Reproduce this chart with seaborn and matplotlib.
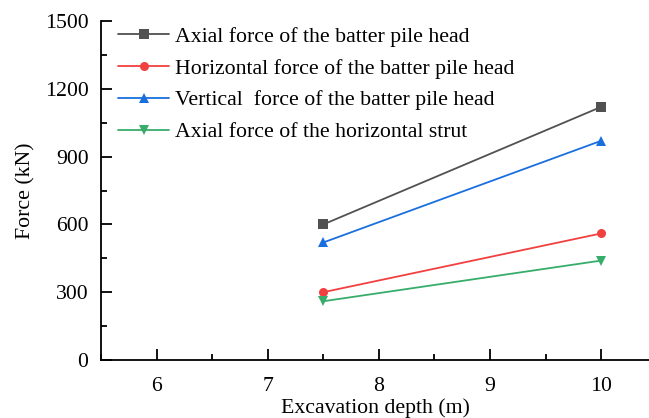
import matplotlib
matplotlib.use("Agg")
import matplotlib.pyplot as plt
import seaborn as sns
import pandas as pd
from matplotlib.ticker import MultipleLocator

depth = [7.5, 10]
series_names = [
    "Axial force of the batter pile head",
    "Horizontal force of the batter pile head",
    "Vertical  force of the batter pile head",
    "Axial force of the horizontal strut",
]
axial_pile = [600, 1120]
horizontal_pile = [300, 560]
vertical_pile = [520, 970]
axial_strut = [260, 440]
colors = ["#515151", "#F14040", "#1A6FDF", "#37AD6B"]
marker_list = ["s", "o", "^", "v"]

rows = []
for name, vals in zip(series_names, [axial_pile, horizontal_pile, vertical_pile, axial_strut]):
    for d, v in zip(depth, vals):
        rows.append({"depth": d, "force": v, "series": name})
df = pd.DataFrame(rows)

sns.set_theme(style="ticks")
plt.rcParams["font.family"] = ["Liberation Serif", "DejaVu Serif"]
plt.rcParams["mathtext.fontset"] = "stix"
plt.rcParams["text.color"] = "black"
plt.rcParams["axes.labelcolor"] = "black"

FS = 15.7
fig = plt.figure(figsize=(6.49, 4.18), dpi=100)
ax = fig.add_axes([101/649, 58/418, 1 - 101/649, (360.7 - 21.7)/418])

sns.lineplot(data=df, x="depth", y="force", hue="series", style="series",
             hue_order=series_names, style_order=series_names,
             palette=dict(zip(series_names, colors)),
             markers=dict(zip(series_names, marker_list)), dashes=False,
             markersize=6.5, markeredgewidth=0, linewidth=1.3, ax=ax)

ax.set_xlim(5.5, 10.43)
ax.set_ylim(0, 1500)
ax.xaxis.set_major_locator(MultipleLocator(1))
ax.xaxis.set_minor_locator(MultipleLocator(0.5))
ax.yaxis.set_major_locator(MultipleLocator(300))
ax.yaxis.set_minor_locator(MultipleLocator(150))
ax.tick_params(which="major", direction="in", length=8, width=1.3, labelsize=FS, colors="black")
ax.tick_params(axis="x", which="major", pad=12)
ax.tick_params(axis="y", which="major", pad=9)
ax.tick_params(which="minor", direction="in", length=4, width=1.3, colors="black")
for s in ["top", "right"]:
    ax.spines[s].set_visible(False)
for s in ["left", "bottom"]:
    ax.spines[s].set_linewidth(1.3)
    ax.spines[s].set_color("black")

ax.set_xlabel("Excavation depth (m)", fontsize=FS, labelpad=2)
ax.set_ylabel("Force (kN)", fontsize=FS, labelpad=7)

leg = ax.legend(loc="upper left", frameon=False, fontsize=FS, handlelength=2.3,
                handletextpad=0.3, labelspacing=0.53, bbox_to_anchor=(0.0, 1.035),
                borderaxespad=0.4)

fig.savefig("out.png", dpi=100)
